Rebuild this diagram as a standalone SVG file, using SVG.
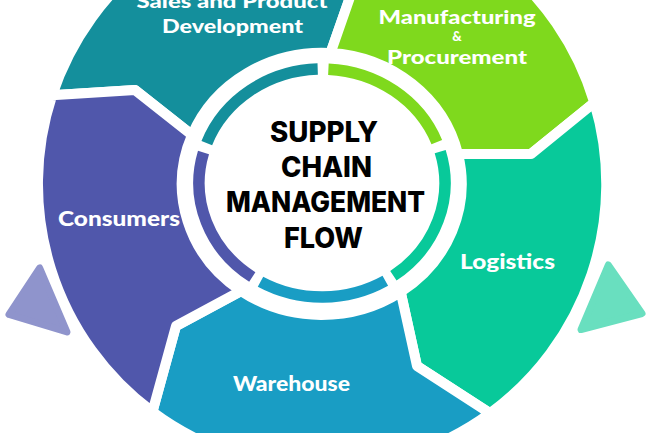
<svg xmlns="http://www.w3.org/2000/svg" width="650" height="433" viewBox="0 0 650 433">
<style>
.seg{stroke:#fff;stroke-width:10;stroke-linejoin:round}
.ring{fill:none;stroke-width:11.5}
.lbl{font-family:Lato,"Open Sans","DejaVu Sans",sans-serif;font-weight:900;fill:#fff;text-anchor:middle}
.title{font-family:Inter,"Open Sans","DejaVu Sans",sans-serif;font-weight:800;fill:#000;text-anchor:middle;font-size:28px}
.tri{stroke-width:7;stroke-linejoin:round}
</style>
<rect width="650" height="433" fill="#fff"/>
<g id="sales">
<path class="seg" fill="#148f9c" d="M52.2,95.2 A284,284 0 0 1 323.8,-99.7 L356,-20 L330.5,53 A140,131 0 0 0 192,135 L135,90 Z"/>
<path class="ring" stroke="#148f9c" d="M206.8,143.1 A123,114 0 0 1 317.7,69.1"/>
<text class="lbl" x="232" y="8" font-size="19" textLength="191" lengthAdjust="spacingAndGlyphs">Sales and Product</text>
<text class="lbl" x="232.5" y="33" font-size="19" textLength="141" lengthAdjust="spacingAndGlyphs">Development</text>
</g>
<g id="manufacturing">
<path class="seg" fill="#7fd91d" d="M323.8,-99.7 A284,284 0 0 1 594.3,102.6 L531,154 L458,154 A140,131 0 0 0 330.5,53 L356,-20 Z"/>
<path class="ring" stroke="#7fd91d" d="M328.4,69.2 A123,114 0 0 1 436.8,142.1"/>
<text class="lbl" x="457" y="24" font-size="18" textLength="157" lengthAdjust="spacingAndGlyphs">Manufacturing</text>
<text class="lbl" x="457" y="41" font-size="13">&amp;</text>
<text class="lbl" x="457" y="64" font-size="19" textLength="140" lengthAdjust="spacingAndGlyphs">Procurement</text>
</g>
<g id="logistics">
<path class="seg" fill="#08c99a" d="M594.3,102.6 A284,284 0 0 1 490,413.3 L417,366 L400.7,292 A140,131 0 0 0 458,154 L531,154 Z"/>
<path class="ring" stroke="#08c99a" d="M440.2,151.6 A123,114 0 0 1 393.4,275.8"/>
<text class="lbl" x="507.5" y="269" font-size="21" textLength="95" lengthAdjust="spacingAndGlyphs">Logistics</text>
</g>
<g id="warehouse">
<path class="seg" fill="#199dc4" d="M490,413.3 A284,284 0 0 1 152.4,411.8 L176,326 L241,291 A140,131 0 0 0 400.7,292 L417,366 Z"/>
<path class="ring" stroke="#199dc4" d="M385.3,280.7 A123,114 0 0 1 260.5,281.7"/>
<text class="lbl" x="291.5" y="391" font-size="21" textLength="117" lengthAdjust="spacingAndGlyphs">Warehouse</text>
</g>
<g id="consumers">
<path class="seg" fill="#5057ab" d="M152.4,411.8 A284,284 0 0 1 52.2,95.2 L135,90 L192,135 A140,131 0 0 0 241,291 L176,326 Z"/>
<path class="ring" stroke="#5057ab" d="M252.3,277 A123,114 0 0 1 203.5,152.5"/>
<text class="lbl" x="119" y="226" font-size="21" textLength="122" lengthAdjust="spacingAndGlyphs">Consumers</text>
</g>
<g id="center">
<text class="title" x="324" y="142" textLength="108" lengthAdjust="spacingAndGlyphs">SUPPLY</text>
<text class="title" x="326.5" y="177" textLength="91" lengthAdjust="spacingAndGlyphs">CHAIN</text>
<text class="title" x="325.5" y="212" textLength="199" lengthAdjust="spacingAndGlyphs">MANAGEMENT</text>
<text class="title" x="323.5" y="248" textLength="79" lengthAdjust="spacingAndGlyphs">FLOW</text>
</g>
<g id="connectors">
<polygon class="tri" fill="#8f94cc" stroke="#8f94cc" points="39.7,268 9,314.5 67,332"/>
<polygon class="tri" fill="#69dfbf" stroke="#69dfbf" points="608.3,265 642,313.5 581,329.5"/>
</g>
</svg>
